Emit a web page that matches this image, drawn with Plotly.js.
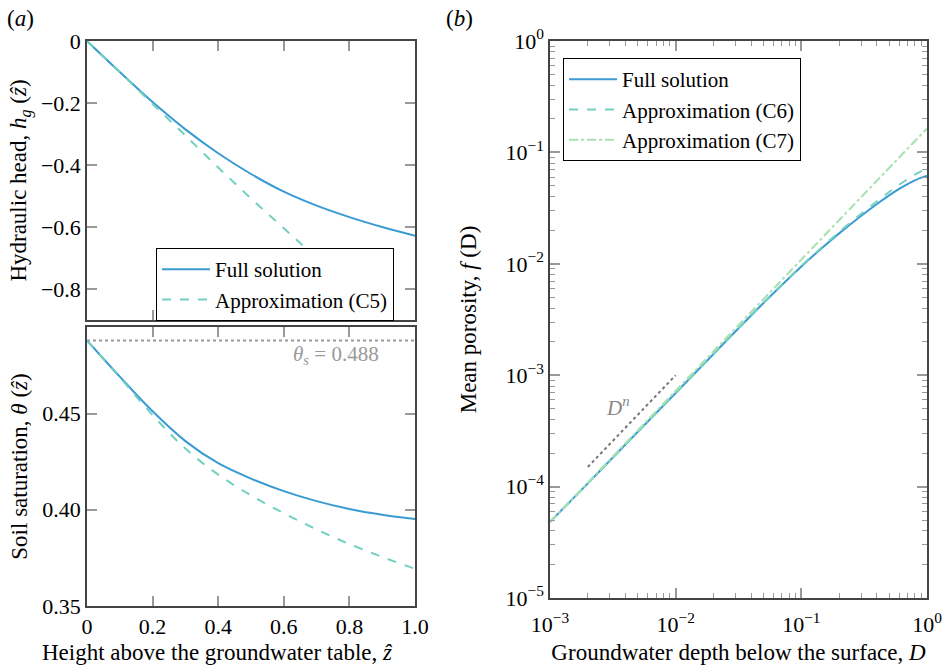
<!DOCTYPE html>
<html>
<head>
<meta charset="utf-8">
<script src="https://cdn.plot.ly/plotly-3.0.1.min.js"></script>
<style>html,body{margin:0;padding:0;background:#fff;}#chart{width:948px;height:668px;}</style>
</head>
<body>
<div id="chart"></div>
<script>
// Panel (a): height above groundwater table
const zHat = [0, 0.1, 0.2, 0.3, 0.4, 0.5, 0.6, 0.7, 0.8, 0.9, 1.0];
const headFull = [0, -0.1, -0.197, -0.285, -0.362, -0.429, -0.486, -0.531, -0.568, -0.6, -0.628];
const headApproxC5 = [0, -0.1, -0.203, -0.305, -0.408, -0.508, -0.604, -0.7, -0.797, -0.893, -0.99];
const thetaFull = [0.488, 0.4692, 0.4512, 0.4357, 0.4242, 0.4162, 0.4097, 0.4045, 0.4004, 0.3974, 0.3952];
const thetaApproxC5 = [0.488, 0.4688, 0.4492, 0.4318, 0.4183, 0.4075, 0.3982, 0.3898, 0.3822, 0.3755, 0.3693];
const thetaSatZ = [0, 1];
const thetaSat = [0.488, 0.488];

// Panel (b): groundwater depth vs mean porosity
const depthD = [0.001, 0.002, 0.005, 0.01, 0.02, 0.05, 0.1, 0.15, 0.2, 0.3, 0.4, 0.5, 0.6, 0.7, 0.8, 0.9, 1.0];
const porosityFull = [4.81e-5, 1.07e-4, 3.11e-4, 6.93e-4, 1.549e-3, 4.446e-3, 9.46e-3, 0.01426, 0.01875, 0.02698, 0.03443, 0.04111, 0.04699, 0.0520, 0.0561, 0.05929, 0.0618];
const porosityC6 = [4.81e-5, 1.07e-4, 3.11e-4, 6.93e-4, 1.549e-3, 4.47e-3, 9.57e-3, 0.01452, 0.01928, 0.02812, 0.03639, 0.04406, 0.05117, 0.05754, 0.0631, 0.06776, 0.07194];
const depthC7 = [0.001, 0.01, 0.1, 1.0];
const porosityC7 = [4.81e-5, 7.24e-4, 0.0109, 0.164];
const slopeRefD = [0.002, 0.01];
const slopeRefF = [1.5e-4, 1.0e-3];

// tick labels
const aXTicks = [0, 0.2, 0.4, 0.6, 0.8, 1.0];
const aXTickText = ['0', '0.2', '0.4', '0.6', '0.8', '1.0'];
const aTopYTicks = [0, -0.2, -0.4, -0.6, -0.8];
const aTopYTickText = ['0', '\u22120.2', '\u22120.4', '\u22120.6', '\u22120.8'];
const aBotYTicks = [0.35, 0.40, 0.45];
const aBotYTickText = ['0.35', '0.40', '0.45'];
const bXTicks = [0.001, 0.01, 0.1, 1];
const bXTickText = ['10<sup>\u22123</sup>', '10<sup>\u22122</sup>', '10<sup>\u22121</sup>', '10<sup>0</sup>'];
const bYTicks = [1e-5, 1e-4, 1e-3, 1e-2, 1e-1, 1];
const bYTickText = ['10<sup>\u22125</sup>', '10<sup>\u22124</sup>', '10<sup>\u22123</sup>', '10<sup>\u22122</sup>', '10<sup>\u22121</sup>', '10<sup>0</sup>'];

function logMinors(lo, hi) {
  const out = [];
  for (let e = lo; e < hi; e++) for (let m = 2; m <= 9; m++) out.push(m * Math.pow(10, e));
  return out;
}

const cFull = '#3a9bd2';
const cC5 = '#72d0c0';
const cC7 = '#a8e2b2';
const FAM = 'Liberation Serif';

const traces = [
  {x: zHat, y: headFull, xaxis: 'x', yaxis: 'y', mode: 'lines', line: {color: cFull, width: 2, shape: 'spline'}, name: 'Full solution', legend: 'legend'},
  {x: zHat, y: headApproxC5, xaxis: 'x', yaxis: 'y', mode: 'lines', line: {color: cC5, width: 2, dash: 'dash', shape: 'spline'}, name: 'Approximation (C5)', legend: 'legend'},
  {x: thetaSatZ, y: thetaSat, xaxis: 'x2', yaxis: 'y2', mode: 'lines', line: {color: '#999', width: 2, dash: 'dot'}, showlegend: false},
  {x: zHat, y: thetaFull, xaxis: 'x2', yaxis: 'y2', mode: 'lines', line: {color: cFull, width: 2, shape: 'spline'}, showlegend: false},
  {x: zHat, y: thetaApproxC5, xaxis: 'x2', yaxis: 'y2', mode: 'lines', line: {color: cC5, width: 2, dash: 'dash', shape: 'spline'}, showlegend: false},
  {x: depthD, y: porosityFull, xaxis: 'x3', yaxis: 'y3', mode: 'lines', line: {color: cFull, width: 2, shape: 'spline'}, name: 'Full solution', legend: 'legend2'},
  {x: depthD, y: porosityC6, xaxis: 'x3', yaxis: 'y3', mode: 'lines', line: {color: cC5, width: 2, dash: 'dash', shape: 'spline'}, name: 'Approximation (C6)', legend: 'legend2'},
  {x: depthC7, y: porosityC7, xaxis: 'x3', yaxis: 'y3', mode: 'lines', line: {color: cC7, width: 2, dash: 'dashdot'}, name: 'Approximation (C7)', legend: 'legend2'},
  {x: slopeRefD, y: slopeRefF, xaxis: 'x3', yaxis: 'y3', mode: 'lines', line: {color: '#777', width: 2, dash: 'dot'}, showlegend: false}
];

const W = 948, H = 668;
const fx = p => p / W;
const fy = p => 1 - p / H;

function ax(extra) {
  return Object.assign({
    showline: true, linecolor: '#444', linewidth: 1.5, mirror: 'ticks',
    ticks: 'inside', ticklen: 10, tickcolor: '#999', tickwidth: 1.5,
    showgrid: false, zeroline: false,
    tickfont: {family: FAM, size: 22, color: '#000'}
  }, extra);
}
function ttl(text, standoff) {
  return {text: text, font: {family: FAM, size: 23, color: '#000'}, standoff: standoff};
}

const layout = {
  width: W, height: H,
  margin: {l: 0, r: 0, t: 0, b: 0},
  paper_bgcolor: '#fff', plot_bgcolor: '#fff',
  font: {family: FAM, size: 22, color: '#000'},
  xaxis: ax({domain: [fx(87), fx(415)], range: [0, 1], tickvals: aXTicks, showticklabels: false, anchor: 'y'}),
  yaxis: ax({domain: [fy(320), fy(41)], range: [-0.9, 0], tickvals: aTopYTicks, ticktext: aTopYTickText, anchor: 'x',
    title: ttl('Hydraulic head, <i>h<sub>g</sub></i> (<i>\u1E91</i>)', 8)}),
  xaxis2: ax({domain: [fx(87), fx(415)], range: [0, 1], tickvals: aXTicks, ticktext: aXTickText, anchor: 'y2'}),
  yaxis2: ax({domain: [fy(606), fy(327)], range: [0.35, 0.495], tickvals: aBotYTicks, ticktext: aBotYTickText, anchor: 'x2',
    title: ttl('Soil saturation, <i>\u03B8</i> (<i>\u1E91</i>)', 8)}),
  xaxis3: ax({domain: [fx(550), fx(927)], type: 'log', range: [-3, 0], tickvals: bXTicks, ticktext: bXTickText, anchor: 'y3',
    ticklabelstandoff: 6,
    minor: {tickmode: 'array', tickvals: logMinors(-3, 0), ticks: 'inside', ticklen: 5, tickcolor: '#999', tickwidth: 1.2},
    title: ttl('Groundwater depth below the surface, <i>D</i>', 8)}),
  yaxis3: ax({domain: [fy(598), fy(41)], type: 'log', range: [-5, 0], tickvals: bYTicks, ticktext: bYTickText, anchor: 'x3',
    minor: {tickmode: 'array', tickvals: logMinors(-5, 0), ticks: 'inside', ticklen: 5, tickcolor: '#999', tickwidth: 1.2},
    title: ttl('Mean porosity, <i>f</i> (D)', 22)}),
  legend: {x: fx(156), y: fy(248), xanchor: 'left', yanchor: 'top', bgcolor: '#fff', bordercolor: '#000', borderwidth: 1,
    font: {family: FAM, size: 21, color: '#000'}, tracegroupgap: 0, itemwidth: 48},
  legend2: {x: fx(563), y: fy(58), xanchor: 'left', yanchor: 'top', bgcolor: '#fff', bordercolor: '#000', borderwidth: 1,
    font: {family: FAM, size: 21, color: '#000'}, tracegroupgap: 0, itemwidth: 48},
  annotations: [
    {text: '(<i>a</i>)', xref: 'paper', yref: 'paper', x: fx(5), y: fy(4), xanchor: 'left', yanchor: 'top', showarrow: false, font: {family: FAM, size: 23, color: '#000'}},
    {text: '(<i>b</i>)', xref: 'paper', yref: 'paper', x: fx(444), y: fy(4), xanchor: 'left', yanchor: 'top', showarrow: false, font: {family: FAM, size: 23, color: '#000'}},
    {text: 'Height above the groundwater table, <i>\u1E91</i>', xref: 'paper', yref: 'paper', x: fx(217), y: fy(652), xanchor: 'center', yanchor: 'middle', showarrow: false, font: {family: FAM, size: 23, color: '#000'}},
    {text: '<i>\u03B8<sub>s</sub></i> = 0.488', xref: 'x2', yref: 'y2', x: 0.76, y: 0.4805, showarrow: false, font: {family: FAM, size: 21, color: '#999'}},
    {text: '<i>D<sup>n</sup></i>', xref: 'x3', yref: 'y3', x: Math.log10(0.0035), y: Math.log10(5.2e-4), showarrow: false, font: {family: FAM, size: 21, color: '#888'}}
  ]
};

Plotly.newPlot('chart', traces, layout, {displayModeBar: false});
</script>
</body>
</html>
